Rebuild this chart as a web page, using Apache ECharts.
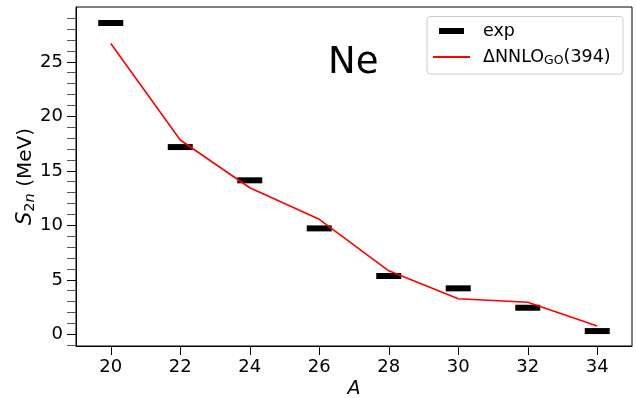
<!DOCTYPE html>
<html>
<head>
<meta charset="utf-8">
<script src="https://cdn.jsdelivr.net/npm/echarts@6/dist/echarts.min.js"></script>
<style>
  html, body { margin: 0; padding: 0; background: #fff; }
  #chart { width: 636px; height: 398px; }
</style>
</head>
<body>
<div id="chart"></div>
<script>
// Two-neutron separation energies of neon isotopes
const massNumbers = [20, 22, 24, 26, 28, 30, 32, 34];
const expS2n = [28.56, 17.18, 14.13, 9.72, 5.35, 4.22, 2.44, 0.30];
const nnloS2n = [26.68, 17.83, 13.45, 10.55, 5.83, 3.27, 2.94, 0.76];
const xTicks = [20, 22, 24, 26, 28, 30, 32, 34];
const yTicks = [0, 5, 10, 15, 20, 25];
const yMinorTicks = [-1, 1, 2, 3, 4, 6, 7, 8, 9, 11, 12, 13, 14, 16, 17, 18, 19, 21, 22, 23, 24, 26, 27, 28, 29];

const FONT = 'DejaVu Sans';
const pairs = vals => massNumbers.map((a, i) => [a, vals[i]]);

const chart = echarts.init(document.getElementById('chart'), null, { renderer: 'canvas' });

chart.setOption({
  animation: false,
  backgroundColor: '#fff',
  textStyle: { fontFamily: FONT, color: '#000' },
  grid: {
    left: 76, right: 4, top: 7, bottom: 52,
    outerBoundsMode: 'none', containLabel: false,
    show: true, borderColor: '#000', borderWidth: 1, backgroundColor: 'transparent'
  },
  xAxis: {
    type: 'value', min: 19, max: 35,
    name: 'A', nameLocation: 'middle', nameGap: 34, nameMoveOverlap: false,
    nameTextStyle: { fontFamily: FONT, fontSize: 19, fontStyle: 'italic', color: '#000' },
    axisLine: { show: true, onZero: false, lineStyle: { color: '#000', width: 1 } },
    axisTick: { show: true, inside: false, length: 9, customValues: xTicks, lineStyle: { color: '#000', width: 1 } },
    axisLabel: { customValues: xTicks, margin: 12, fontFamily: FONT, fontSize: 18, color: '#000' },
    splitLine: { show: false }
  },
  yAxis: [
    {
      type: 'value', min: -1.07, max: 30.03, position: 'left',
      name: '{s|S}{sub|2}{subi|n}{t| (MeV)}', nameLocation: 'middle', nameGap: 38, nameMoveOverlap: false,
      nameTextStyle: {
        fontFamily: FONT, fontSize: 20, color: '#000',
        rich: {
          s: { fontFamily: FONT, fontSize: 21, fontStyle: 'italic', color: '#000' },
          sub: { fontFamily: FONT, fontSize: 14.5, color: '#000', verticalAlign: 'bottom', padding: [9, 0, 0, 0] },
          subi: { fontFamily: FONT, fontSize: 14.5, fontStyle: 'italic', color: '#000', verticalAlign: 'bottom', padding: [9, 0, 0, 0] },
          t: { fontFamily: FONT, fontSize: 20, color: '#000' }
        }
      },
      axisLine: { show: true, onZero: false, lineStyle: { color: '#000', width: 1 } },
      axisTick: { show: true, inside: false, length: 9, customValues: yTicks, lineStyle: { color: '#000', width: 1 } },
      axisLabel: { customValues: yTicks, margin: 13, fontFamily: FONT, fontSize: 18, color: '#000' },
      splitLine: { show: false }
    },
    {
      type: 'value', min: -1.07, max: 30.03, position: 'left', offset: 0,
      axisLine: { show: false },
      axisTick: { show: true, inside: false, length: 9, customValues: yMinorTicks, lineStyle: { color: '#555', width: 1 } },
      axisLabel: { show: false },
      splitLine: { show: false }
    }
  ],
  graphic: [
    {
      type: 'rect', z: 3,
      shape: { x: 427, y: 16.5, width: 196, height: 57.5, r: 3 },
      style: { fill: 'rgba(255,255,255,0.8)', stroke: '#cccccc', lineWidth: 1 }
    },
    {
      type: 'text', z: 5, left: 328, top: 45,
      style: { text: 'Ne', fontFamily: FONT, fontSize: 37, fill: '#000' }
    }
  ],
  legend: [
    {
      data: ['exp'], left: 439, top: 21, padding: 0, z: 4,
      icon: 'rect', itemWidth: 25, itemHeight: 6,
      itemStyle: { color: '#000', opacity: 1 },
      formatter: '{g|}{t|exp}',
      textStyle: {
        fontFamily: FONT, fontSize: 17.5, color: '#000', lineHeight: 20,
        rich: { g: { width: 14 }, t: { fontFamily: FONT, fontSize: 17.5, color: '#000' } }
      }
    },
    {
      data: ['model'], left: 433, top: 47, padding: 0, z: 4,
      icon: 'rect', itemWidth: 37, itemHeight: 2,
      formatter: '{g|}{t|ΔNNLO}{sub|GO}{t|(394)}',
      textStyle: {
        fontFamily: FONT, fontSize: 17.5, color: '#000', lineHeight: 20,
        rich: {
          g: { width: 8 },
          t: { fontFamily: FONT, fontSize: 17.5, color: '#000' },
          sub: { fontFamily: FONT, fontSize: 12.5, color: '#000', verticalAlign: 'bottom', padding: [7, 0, 0, 0] }
        }
      }
    }
  ],
  series: [
    {
      name: 'exp', type: 'scatter', z: 2,
      symbol: 'rect', symbolSize: [25, 6],
      itemStyle: { color: '#000', opacity: 1 },
      data: pairs(expS2n)
    },
    {
      name: 'model', type: 'line', z: 3,
      showSymbol: false, symbol: 'none',
      lineStyle: { color: '#ff0000', width: 1.6 },
      itemStyle: { color: '#ff0000' },
      data: pairs(nnloS2n)
    }
  ]
});
</script>
</body>
</html>
